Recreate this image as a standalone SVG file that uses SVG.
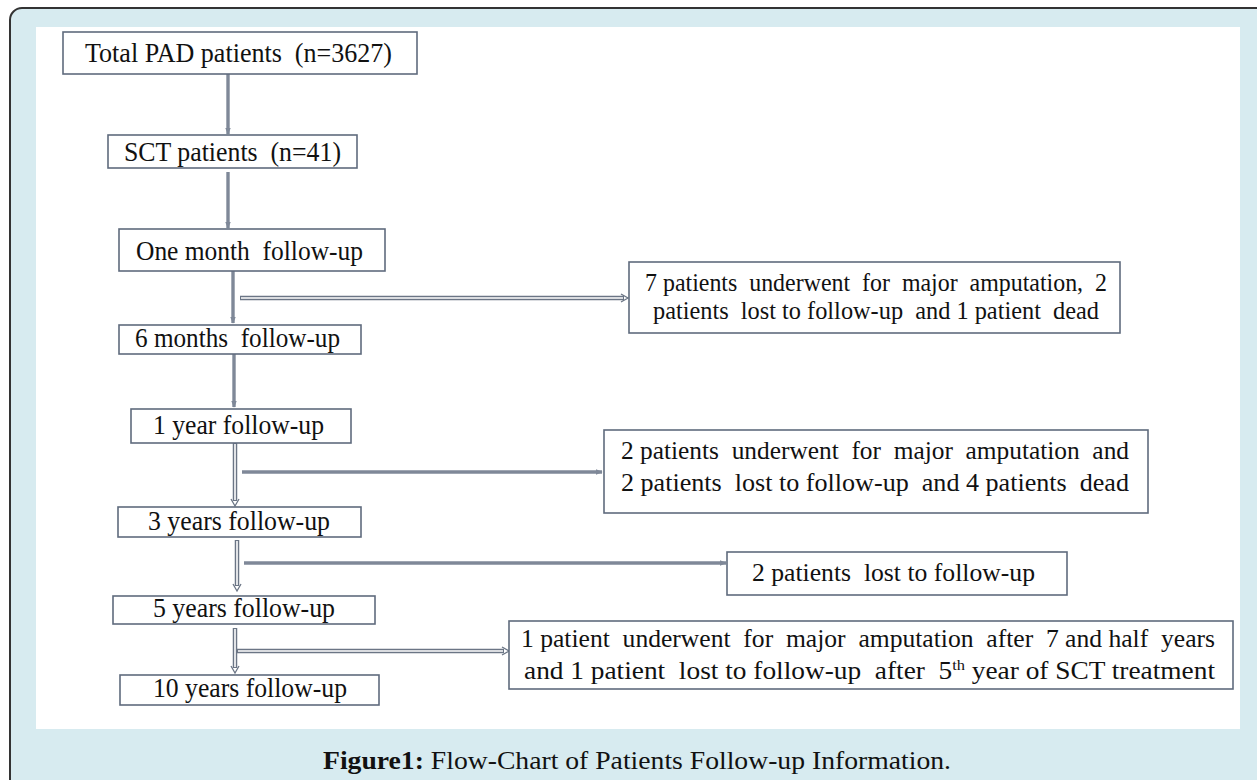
<svg xmlns="http://www.w3.org/2000/svg" width="1257" height="780" viewBox="0 0 1257 780" xml:space="preserve">
<defs>
<style>
text{white-space:pre}
.box{fill:#fff;stroke:#5f6b7d;stroke-width:1.6}
.t{font-family:"Liberation Serif","Times New Roman",serif;font-size:27px;fill:#111}
.rt{font-family:"Liberation Serif","Times New Roman",serif;font-size:25px;fill:#111}
.single{stroke:#7f8898;stroke-width:3.4;fill:none}
.dblo{stroke:#6b7585;stroke-width:4.5;fill:none}
.dbli{stroke:#fff;stroke-width:1.6;fill:none}
.hd{fill:none;stroke:#6b7585;stroke-width:1.3}
.cap{font-family:"Liberation Serif","DejaVu Serif",serif;font-size:25px;fill:#111}
</style>
<marker id="ah" viewBox="0 0 10 10" refX="9" refY="5" markerWidth="7" markerHeight="7" markerUnits="userSpaceOnUse" orient="auto">
<path d="M0,1 L10,5 L0,9 Z" fill="#7f8898"/>
</marker>
</defs>
<rect x="0" y="0" width="1257" height="780" fill="#fff"/>
<rect x="10" y="8" width="1270" height="800" rx="12" ry="12" fill="#d7ebf0" stroke="#333" stroke-width="2"/>
<rect x="36" y="27" width="1204" height="702" fill="#fff"/>

<g id="connectors">
<line class="single" x1="228" y1="74" x2="228" y2="134" marker-end="url(#ah)"/>
<line class="single" x1="228" y1="172" x2="228" y2="228" marker-end="url(#ah)"/>
<line class="single" x1="233" y1="271" x2="233" y2="323" marker-end="url(#ah)"/>
<line class="dblo" x1="240" y1="298" x2="624" y2="298"/>
<line class="dbli" x1="241" y1="298" x2="623" y2="298"/>
<path class="hd" d="M621,294 L628,298 L621,302"/>
<line class="single" x1="234" y1="354" x2="234" y2="407" marker-end="url(#ah)"/>
<line class="dblo" x1="235" y1="443" x2="235" y2="501"/>
<line class="dbli" x1="235" y1="444" x2="235" y2="500"/>
<path class="hd" d="M231,499 L235,506 L239,499"/>
<line class="single" x1="242" y1="472" x2="602" y2="472" marker-end="url(#ah)"/>
<line class="dblo" x1="237" y1="540" x2="237" y2="586"/>
<line class="dbli" x1="237" y1="541" x2="237" y2="585"/>
<path class="hd" d="M233,584 L237,591 L241,584"/>
<line class="single" x1="244" y1="563" x2="726" y2="563" marker-end="url(#ah)"/>
<line class="dblo" x1="235" y1="628" x2="235" y2="668"/>
<line class="dbli" x1="235" y1="629" x2="235" y2="667"/>
<path class="hd" d="M231,666 L235,673 L239,666"/>
<line class="dblo" x1="237" y1="651" x2="504" y2="651"/>
<line class="dbli" x1="238" y1="651" x2="503" y2="651"/>
<path class="hd" d="M502,647 L509,651 L502,655"/>
</g>

<g id="n1"><rect class="box" x="63" y="32" width="354" height="42"/><text class="t" x="85" y="62" textLength="307" lengthAdjust="spacingAndGlyphs">Total PAD patients  (n=3627)</text></g>
<g id="n2"><rect class="box" x="108" y="135" width="249" height="33"/><text class="t" x="124" y="161" textLength="217" lengthAdjust="spacingAndGlyphs">SCT patients  (n=41)</text></g>
<g id="n3"><rect class="box" x="119" y="229" width="266" height="42"/><text class="t" x="136" y="260" textLength="227" lengthAdjust="spacingAndGlyphs">One month  follow-up</text></g>
<g id="n4"><rect class="box" x="119" y="325" width="242" height="29"/><text class="t" x="135" y="347" textLength="205" lengthAdjust="spacingAndGlyphs">6 months  follow-up</text></g>
<g id="n5"><rect class="box" x="131" y="409" width="220" height="34"/><text class="t" x="153" y="434" textLength="171" lengthAdjust="spacingAndGlyphs">1 year follow-up</text></g>
<g id="n6"><rect class="box" x="118" y="507" width="243" height="30"/><text class="t" x="148" y="530" textLength="182" lengthAdjust="spacingAndGlyphs">3 years follow-up</text></g>
<g id="n7"><rect class="box" x="113" y="596" width="262" height="28"/><text class="t" x="153" y="617" textLength="182" lengthAdjust="spacingAndGlyphs">5 years follow-up</text></g>
<g id="n8"><rect class="box" x="120" y="675" width="259" height="30"/><text class="t" x="153" y="697" textLength="194" lengthAdjust="spacingAndGlyphs">10 years follow-up</text></g>

<g id="r1"><rect class="box" x="629" y="262" width="491" height="71"/>
<text class="rt" x="645" y="291" textLength="462" lengthAdjust="spacingAndGlyphs">7 patients  underwent  for  major  amputation,  2</text>
<text class="rt" x="653" y="319" textLength="446" lengthAdjust="spacingAndGlyphs">patients  lost to follow-up  and 1 patient  dead</text></g>
<g id="r2"><rect class="box" x="604" y="430" width="544" height="83"/>
<text class="rt" x="621" y="459" textLength="508" lengthAdjust="spacingAndGlyphs">2 patients  underwent  for  major  amputation  and</text>
<text class="rt" x="621" y="491" textLength="508" lengthAdjust="spacingAndGlyphs">2 patients  lost to follow-up  and 4 patients  dead</text></g>
<g id="r3"><rect class="box" x="727" y="552" width="340" height="43"/>
<text class="rt" x="752" y="581" textLength="283" lengthAdjust="spacingAndGlyphs">2 patients  lost to follow-up</text></g>
<g id="r4"><rect class="box" x="509" y="621" width="724" height="68"/>
<text class="rt" x="521" y="647" textLength="694" lengthAdjust="spacingAndGlyphs">1 patient  underwent  for  major  amputation  after  7 and half  years</text>
<text class="rt" x="524" y="679" textLength="691" lengthAdjust="spacingAndGlyphs">and 1 patient  lost to follow-up  after  5<tspan font-size="15" dy="-9">th</tspan><tspan dy="9"> year of SCT treatment</tspan></text></g>

<text class="cap" x="323" y="769" textLength="628" lengthAdjust="spacingAndGlyphs"><tspan font-weight="bold">Figure1:</tspan> Flow-Chart of Patients Follow-up Information.</text>
</svg>
